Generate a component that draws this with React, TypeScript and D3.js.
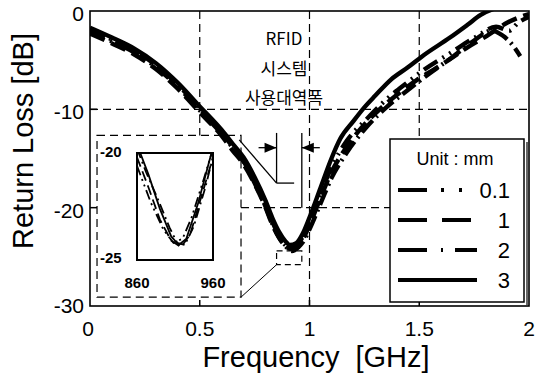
import { useEffect, useRef } from "react";
import * as d3 from "d3";

type Pt = [number, number];

// main curves, [GHz, dB]
const series01: Pt[] = [
  [0, -2.1], [0.1, -3.1], [0.2, -4.2], [0.3, -5.7], [0.4, -7.7], [0.5, -10.1],
  [0.6, -12.5], [0.65, -13.9], [0.7, -15.3], [0.75, -17.3], [0.8, -19.7], [0.83, -21.4],
  [0.86, -22.8], [0.89, -23.8], [0.91, -24.1], [0.94, -23.8], [0.96, -23.3], [1.0, -21.4],
  [1.05, -18.6], [1.1, -15.9], [1.17, -13.2], [1.26, -11.0], [1.35, -9.0], [1.45, -7.2],
  [1.52, -6.0], [1.64, -4.3], [1.76, -2.6], [1.85, -1.6], [1.91, -2.0], [1.95, -1.2], [2.0, -0.6],
];
const series1: Pt[] = [
  [0, -2.3], [0.1, -3.3], [0.2, -4.4], [0.3, -5.9], [0.4, -7.9], [0.5, -10.3],
  [0.6, -12.7], [0.65, -14.2], [0.7, -15.6], [0.75, -17.6], [0.8, -20.0], [0.83, -21.7],
  [0.86, -23.0], [0.89, -23.9], [0.92, -24.2], [0.95, -23.9], [0.97, -23.2], [1.0, -21.8],
  [1.05, -19.0], [1.1, -16.4], [1.17, -13.8], [1.26, -11.3], [1.31, -10.2], [1.4, -8.5],
  [1.49, -7.0], [1.57, -5.9], [1.64, -4.9], [1.72, -3.7], [1.81, -2.5], [1.9, -1.2], [2.0, -0.3],
];
const series2: Pt[] = [
  [0, -1.9], [0.1, -2.9], [0.2, -4.0], [0.3, -5.5], [0.4, -7.5], [0.5, -9.9],
  [0.6, -12.4], [0.65, -13.8], [0.7, -15.3], [0.75, -17.5], [0.8, -19.9], [0.83, -21.6],
  [0.86, -23.0], [0.89, -23.9], [0.92, -24.4], [0.95, -24.0], [0.97, -23.5], [1.0, -22.2],
  [1.05, -19.6], [1.1, -17.0], [1.17, -14.4], [1.26, -11.8], [1.35, -9.8], [1.45, -8.0],
  [1.55, -6.3], [1.65, -4.7], [1.75, -3.0], [1.83, -2.0], [1.88, -2.5], [1.93, -3.6], [1.96, -4.6],
];
const series3: Pt[] = [
  [0, -1.7], [0.1, -2.7], [0.2, -3.8], [0.3, -5.3], [0.4, -7.3], [0.5, -9.7],
  [0.6, -12.1], [0.65, -13.5], [0.7, -14.9], [0.75, -16.9], [0.8, -19.3], [0.83, -21.0],
  [0.86, -22.4], [0.89, -23.4], [0.91, -23.8], [0.94, -23.6], [0.97, -22.6], [1.0, -21.0],
  [1.05, -18.0], [1.1, -15.0], [1.14, -13.0], [1.2, -11.2], [1.25, -9.8], [1.3, -8.6],
  [1.37, -7.0], [1.45, -5.7], [1.52, -4.5], [1.64, -2.7], [1.72, -1.4], [1.78, -0.4],
  [1.85, 0.3], [2.0, 0.8],
];

// inset curves, [MHz, dB]
const inset01: Pt[] = [
  [860, -20.6], [878, -22.3], [895, -23.6], [908, -24.2], [920, -24.0], [932, -23.0], [948, -21.2], [960, -19.8],
];
const inset1: Pt[] = [
  [860, -20.2], [875, -21.6], [890, -23.1], [905, -24.1], [918, -24.4], [930, -23.8], [945, -22.0], [960, -20.2],
];
const inset2: Pt[] = [
  [860, -19.8], [872, -20.9], [888, -22.2], [903, -23.5], [913, -24.2], [923, -24.3], [935, -23.4], [950, -21.6], [962, -19.9],
];
const inset3: Pt[] = [
  [860, -19.6], [875, -21.0], [890, -22.6], [905, -23.9], [915, -24.3], [925, -24.0], [940, -22.4], [955, -20.4], [962, -19.5],
];

const seriesLabels = ["0.1", "1", "2", "3"];
const xTicks = [0, 0.5, 1, 1.5, 2];
const yTicks = [0, -10, -20, -30];
const insetXTicks = [860, 960];
const insetYTicks = [-20, -25];
const bandGHz = [0.85, 0.965];
const annotationLines = ["RFID", "시스템", "사용대역폭"];

const FONT = "'Liberation Sans', Arial, Helvetica, sans-serif";

export default function App() {
  const ref = useRef<SVGSVGElement | null>(null);

  useEffect(() => {
    if (!ref.current) return;
    const svg = d3.select(ref.current);
    svg.selectAll("*").remove();

    const W = 544, H = 378;
    const x = d3.scaleLinear().domain([0, 2]).range([90, 529]);
    const y = d3.scaleLinear().domain([-30, 0]).range([306, 11]);

    const all = [series01, series1, series2, series3];
    const dashes = ["16,6,2,6,2,6", "16,7", "16,5,2,5", null];
    const insetDashes = ["10,4,2,4,2,4", "10,5", "10,4,2,4", null];
    const legendDashes = ["29,14,3,15,3,20", "29,15", "29,14,2,12", null];

    svg.append("rect").attr("width", W).attr("height", H).attr("fill", "#fff");

    const defs = svg.append("defs");
    defs.append("clipPath").attr("id", "plotclip")
      .append("rect").attr("x", x(0)).attr("y", y(0)).attr("width", x(2) - x(0)).attr("height", y(-30) - y(0));

    // inset frame (outer dashed) in data units
    const ob = { f0: 0.032, f1: 0.688, d0: -12.65, d1: -29.1 };
    const grid = svg.append("g").attr("stroke", "#000").attr("stroke-width", 1.2)
      .attr("stroke-dasharray", "8,5").attr("fill", "none");
    grid.append("line").attr("x1", x(0)).attr("x2", x(2)).attr("y1", y(-10)).attr("y2", y(-10));
    grid.append("line").attr("x1", x(ob.f1)).attr("x2", 390).attr("y1", y(-20)).attr("y2", y(-20));
    grid.append("line").attr("x1", x(0.5)).attr("x2", x(0.5)).attr("y1", y(0)).attr("y2", y(ob.d0));
    grid.append("line").attr("x1", x(1)).attr("x2", x(1)).attr("y1", y(0)).attr("y2", y(-30));
    grid.append("line").attr("x1", x(1.5)).attr("x2", x(1.5)).attr("y1", y(0)).attr("y2", 139);

    grid.append("rect")
      .attr("x", x(ob.f0)).attr("y", y(ob.d0))
      .attr("width", x(ob.f1) - x(ob.f0)).attr("height", y(ob.d1) - y(ob.d0));

    // small box around the minimum
    grid.append("rect")
      .attr("stroke-dasharray", "6,4")
      .attr("x", x(bandGHz[0])).attr("y", y(-24.4))
      .attr("width", x(bandGHz[1]) - x(bandGHz[0])).attr("height", y(-25.8) - y(-24.4));

    // axes box + ticks
    svg.append("rect").attr("x", x(0)).attr("y", y(0)).attr("width", x(2) - x(0))
      .attr("height", y(-30) - y(0)).attr("fill", "none").attr("stroke", "#000").attr("stroke-width", 1.6);
    const ticks = svg.append("g").attr("stroke", "#000").attr("stroke-width", 1.5);
    yTicks.slice(1, 3).forEach((v) => {
      ticks.append("line").attr("x1", x(0)).attr("x2", x(0) + 7).attr("y1", y(v)).attr("y2", y(v));
    });
    xTicks.slice(1, 4).forEach((v) => {
      ticks.append("line").attr("x1", x(v)).attr("x2", x(v)).attr("y1", y(-30)).attr("y2", y(-30) - 6);
    });

    const lab = svg.append("g").attr("font-family", FONT).attr("fill", "#000");
    yTicks.forEach((v) => {
      lab.append("text").attr("x", 84).attr("y", y(v) + (v === -30 ? 7 : 10))
        .attr("text-anchor", "end").attr("font-size", 21).text(String(v));
    });
    xTicks.forEach((v) => {
      lab.append("text").attr("x", x(v) + (v === 0 ? -2 : 0)).attr("y", 336)
        .attr("text-anchor", "middle").attr("font-size", 21).text(String(v));
    });
    lab.append("text").attr("x", 316).attr("y", 367).attr("text-anchor", "middle")
      .attr("font-size", 29).attr("xml:space", "preserve").text("Frequency  [GHz]");
    lab.append("text").attr("transform", "translate(33,141) rotate(-90)")
      .attr("text-anchor", "middle").attr("font-size", 29).text("Return Loss [dB]");

    // inset
    const ix = d3.scaleLinear().domain([860, 960]).range([137, 213]);
    const iy = d3.scaleLinear().domain([-25, -20]).range([260, 153]);
    defs.append("clipPath").attr("id", "insetclip")
      .append("rect").attr("x", 137).attr("y", 153).attr("width", 76).attr("height", 107);
    svg.append("rect").attr("x", 137).attr("y", 153).attr("width", 76).attr("height", 107)
      .attr("fill", "#fff").attr("stroke", "#000").attr("stroke-width", 2);
    const iline = d3.line<Pt>().x((d) => ix(d[0])).y((d) => iy(d[1]));
    const ig = svg.append("g").attr("clip-path", "url(#insetclip)");
    [inset01, inset1, inset2, inset3].forEach((s, i) => {
      ig.append("path").datum(s).attr("d", iline).attr("fill", "none").attr("stroke", "#000")
        .attr("stroke-width", 1.8).attr("stroke-dasharray", insetDashes[i]);
    });
    const il = svg.append("g").attr("font-family", FONT).attr("font-weight", "bold").attr("font-size", 15);
    insetYTicks.forEach((v) => {
      il.append("text").attr("x", 100).attr("y", iy(v) + (v === -20 ? 4 : 3)).text(String(v));
    });
    insetXTicks.forEach((v) => {
      il.append("text").attr("x", ix(v)).attr("y", 288).attr("text-anchor", "middle").text(String(v));
    });

    // leader from min box to inset
    svg.append("line").attr("x1", x(bandGHz[0])).attr("y1", y(-25.8))
      .attr("x2", x(ob.f1)).attr("y2", y(ob.d1)).attr("stroke", "#000").attr("stroke-width", 1);

    // main curves
    const line = d3.line<Pt>().x((d) => x(d[0])).y((d) => y(d[1])).curve(d3.curveMonotoneX);
    const cg = svg.append("g").attr("clip-path", "url(#plotclip)");
    all.forEach((s, i) => {
      cg.append("path").datum(s).attr("d", line).attr("fill", "none").attr("stroke", "#000")
        .attr("stroke-width", 4.4).attr("stroke-dasharray", dashes[i]);
    });

    // RFID band annotation
    const ann = svg.append("g").attr("stroke", "#000").attr("stroke-width", 1.3).attr("fill", "none");
    ann.append("line").attr("x1", x(bandGHz[0])).attr("x2", x(bandGHz[0])).attr("y1", y(-12.4)).attr("y2", y(-17.5));
    ann.append("line").attr("x1", x(bandGHz[1])).attr("x2", x(bandGHz[1])).attr("y1", y(-12.4)).attr("y2", y(-20));
    ann.append("line").attr("x1", x(0.68)).attr("y1", y(-13.1)).attr("x2", x(bandGHz[0])).attr("y2", y(-17.5));
    ann.append("line").attr("x1", x(bandGHz[0])).attr("x2", x(0.93)).attr("y1", y(-17.5)).attr("y2", y(-17.5));
    const ay = y(-13.9);
    const lx = x(bandGHz[0]), rx = x(bandGHz[1]);
    ann.append("line").attr("x1", lx - 18).attr("x2", lx).attr("y1", ay).attr("y2", ay);
    ann.append("line").attr("x1", rx).attr("x2", rx + 18).attr("y1", ay).attr("y2", ay);
    svg.append("path").attr("d", `M${lx},${ay} L${lx - 12},${ay - 5} L${lx - 12},${ay + 5} Z`).attr("fill", "#000");
    svg.append("path").attr("d", `M${rx},${ay} L${rx + 12},${ay - 5} L${rx + 12},${ay + 5} Z`).attr("fill", "#000");

    const at = svg.append("g").attr("font-family", "'Noto Sans CJK KR', 'Liberation Sans', sans-serif")
      .attr("font-size", 17).attr("text-anchor", "middle").attr("fill", "#000");
    annotationLines.forEach((t, i) => {
      at.append("text").attr("x", 284).attr("y", 45 + i * 29.5).text(t);
    });

    // legend
    const lg = svg.append("g");
    lg.append("line").attr("x1", 527).attr("x2", 527).attr("y1", 142).attr("y2", 305)
      .attr("stroke", "#000").attr("stroke-width", 1.2);
    lg.append("rect").attr("x", 390).attr("y", 139).attr("width", 134).attr("height", 163)
      .attr("fill", "#fff").attr("stroke", "#000").attr("stroke-width", 1.5);
    lg.append("text").attr("x", 455).attr("y", 165).attr("text-anchor", "middle")
      .attr("font-family", FONT).attr("font-size", 18).text("Unit : mm");
    seriesLabels.forEach((name, i) => {
      const ly = 190 + i * 30;
      lg.append("line").attr("x1", 398).attr("x2", 477).attr("y1", ly).attr("y2", ly)
        .attr("stroke", "#000").attr("stroke-width", 4).attr("stroke-dasharray", legendDashes[i]);
      lg.append("text").attr("x", 510).attr("y", ly + 8).attr("text-anchor", "end")
        .attr("font-family", FONT).attr("font-size", 22).text(name);
    });
  }, []);

  return (
    <div style={{ position: "fixed", left: 0, top: 0 }}>
      <svg ref={ref} width={544} height={378} style={{ display: "block" }} />
    </div>
  );
}
